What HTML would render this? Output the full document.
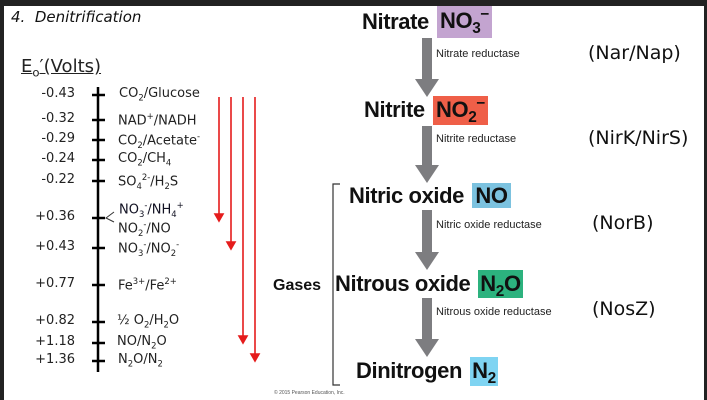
<!DOCTYPE html>
<html><head><style>
body{margin:0;width:707px;height:400px;background:#fff;position:relative;overflow:hidden;font-family:"Liberation Sans",sans-serif;}
.a{position:absolute;white-space:nowrap;}
.c{font-family:"DejaVu Sans","Liberation Sans",sans-serif;color:#222;font-size:13px;}
.v{font-family:"DejaVu Sans","Liberation Sans",sans-serif;color:#222;font-size:13px;width:60px;text-align:right;}
.b{font-weight:bold;font-size:22px;color:#111;letter-spacing:-0.4px;}
.bx{position:absolute;font-weight:bold;font-size:22px;color:#111;letter-spacing:-0.4px;white-space:nowrap;text-align:center;}
.e{font-size:11px;color:#222;}
.r{font-family:"DejaVu Sans","Liberation Sans",sans-serif;font-size:19px;color:#111;}
sub,sup{font-size:65%;}
.bx sub{font-size:70%;vertical-align:-5px;line-height:0}
.bx sup{font-size:70%;vertical-align:9px;line-height:0}
</style></head><body>
<div class="a" style="left:0;top:0;width:707px;height:6px;background:#222"></div>
<div class="a" style="left:0;top:0;width:4px;height:400px;background:#222"></div>
<div class="a" style="left:704px;top:0;width:3px;height:400px;background:#222"></div>
<div class="a" style="left:11px;top:8px;font-style:italic;font-size:15px;color:#111;font-family:'DejaVu Sans',sans-serif">4.&nbsp; Denitrification</div>
<div class="a" style="left:21px;top:56px;font-size:18px;color:#222;font-family:'DejaVu Sans',sans-serif;text-decoration:underline;">E<sub>o</sub>&#8242;(Volts)</div>
<svg class="a" style="left:0;top:0" width="707" height="400">
<line x1="98" y1="87" x2="98" y2="372" stroke="#000" stroke-width="2.5"/>
<g stroke="#000" stroke-width="2.5">
<line x1="92" y1="95" x2="105" y2="95"/><line x1="92" y1="120" x2="105" y2="120"/><line x1="92" y1="140" x2="105" y2="140"/><line x1="92" y1="160" x2="105" y2="160"/><line x1="92" y1="181" x2="105" y2="181"/><line x1="92" y1="218" x2="105" y2="218"/><line x1="92" y1="248" x2="105" y2="248"/><line x1="92" y1="285" x2="105" y2="285"/><line x1="92" y1="322" x2="105" y2="322"/><line x1="92" y1="343" x2="105" y2="343"/><line x1="92" y1="361" x2="105" y2="361"/>
</g>
<polyline points="114,212 106,218 114,222" fill="none" stroke="#333" stroke-width="1"/>
<g stroke="#e51c1c" stroke-width="1.6" fill="#e51c1c">
<line x1="219" y1="97" x2="219" y2="216"/><polygon points="215,214 223,214 219,221"/>
<line x1="231" y1="97" x2="231" y2="244"/><polygon points="227,242 235,242 231,249"/>
<line x1="243" y1="97" x2="243" y2="338"/><polygon points="239,336 247,336 243,343"/>
<line x1="255" y1="97" x2="255" y2="356"/><polygon points="251,354 259,354 255,361"/>
</g>
<g fill="#7d7d80">
<rect x="422" y="38" width="10" height="42"/><polygon points="415,79 439,79 427,97"/>
<rect x="422" y="126" width="10" height="40"/><polygon points="415,165 439,165 427,183"/>
<rect x="422" y="210" width="10" height="43"/><polygon points="415,252 439,252 427,270"/>
<rect x="422" y="298" width="10" height="42"/><polygon points="415,339 439,339 427,357"/>
</g>
<polyline points="340,184 333,184 333,385 340,385" fill="none" stroke="#333" stroke-width="1.2"/>
</svg>
<div class="a v" style="left:15px;top:86px">-0.43</div>
<div class="a v" style="left:15px;top:111px">-0.32</div>
<div class="a v" style="left:15px;top:131px">-0.29</div>
<div class="a v" style="left:15px;top:151px">-0.24</div>
<div class="a v" style="left:15px;top:172px">-0.22</div>
<div class="a v" style="left:15px;top:209px">+0.36</div>
<div class="a v" style="left:15px;top:239px">+0.43</div>
<div class="a v" style="left:15px;top:276px">+0.77</div>
<div class="a v" style="left:15px;top:313px">+0.82</div>
<div class="a v" style="left:15px;top:334px">+1.18</div>
<div class="a v" style="left:15px;top:352px">+1.36</div>
<div class="a c" style="left:119px;top:86px">CO<sub>2</sub>/Glucose</div>
<div class="a c" style="left:118px;top:111px">NAD<sup>+</sup>/NADH</div>
<div class="a c" style="left:118px;top:131px">CO<sub>2</sub>/Acetate<sup>-</sup></div>
<div class="a c" style="left:118px;top:151px">CO<sub>2</sub>/CH<sub>4</sub></div>
<div class="a c" style="left:118px;top:172px">SO<sub>4</sub><sup>2-</sup>/H<sub>2</sub>S</div>
<div class="a c" style="left:119px;top:200px;color:#112">NO<sub>3</sub><sup>-</sup>/NH<sub>4</sub><sup>+</sup></div>
<div class="a c" style="left:118px;top:219px">NO<sub>2</sub><sup>-</sup>/NO</div>
<div class="a c" style="left:118px;top:239px">NO<sub>3</sub><sup>-</sup>/NO<sub>2</sub><sup>-</sup></div>
<div class="a c" style="left:118px;top:276px">Fe<sup>3+</sup>/Fe<sup>2+</sup></div>
<div class="a c" style="left:117px;top:313px">½ O<sub>2</sub>/H<sub>2</sub>O</div>
<div class="a c" style="left:117px;top:334px">NO/N<sub>2</sub>O</div>
<div class="a c" style="left:118px;top:352px">N<sub>2</sub>O/N<sub>2</sub></div>

<div class="bx" style="left:437px;top:6px;width:55px;height:32px;line-height:30px;background:#c3a4d0">NO<sub>3</sub><sup>−</sup></div>
<div class="bx" style="left:433px;top:96px;width:55px;height:29px;line-height:27px;background:#ef5f48">NO<sub>2</sub><sup>−</sup></div>
<div class="bx" style="left:472px;top:183px;width:39px;height:25px;line-height:25px;background:#7cc2df">NO</div>
<div class="bx" style="left:478px;top:270px;width:45px;height:28px;line-height:27px;background:#2cb27e">N<sub>2</sub>O</div>
<div class="bx" style="left:470px;top:357px;width:28px;height:29px;line-height:28px;background:#7fd4f2">N<sub>2</sub></div>
<div class="a b" style="left:362px;top:9px">Nitrate</div>
<div class="a b" style="left:364px;top:97px">Nitrite</div>
<div class="a b" style="left:349px;top:183px">Nitric oxide</div>
<div class="a b" style="left:335px;top:271px">Nitrous oxide</div>
<div class="a b" style="left:356px;top:358px">Dinitrogen</div>
<div class="a" style="left:273px;top:277px;font-weight:bold;font-size:16px;color:#111">Gases</div>
<div class="a e" style="left:436px;top:48px">Nitrate reductase</div>
<div class="a e" style="left:436px;top:133px">Nitrite reductase</div>
<div class="a e" style="left:436px;top:219px">Nitric oxide reductase</div>
<div class="a e" style="left:436px;top:306px">Nitrous oxide reductase</div>
<div class="a r" style="left:588px;top:42px">(Nar/Nap)</div>
<div class="a r" style="left:588px;top:127px">(NirK/NirS)</div>
<div class="a r" style="left:592px;top:212px">(NorB)</div>
<div class="a r" style="left:592px;top:298px">(NosZ)</div>
<div class="a" style="left:274px;top:390px;font-size:5px;color:#555">© 2015 Pearson Education, Inc.</div>
</body></html>
